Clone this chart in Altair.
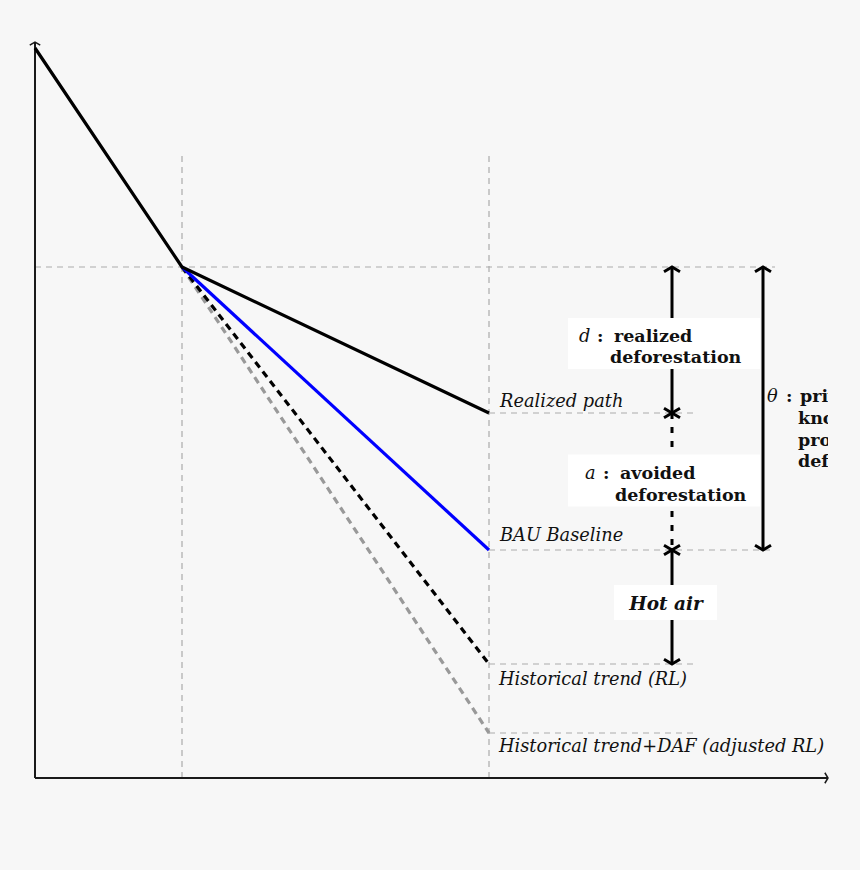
import altair as alt
import pandas as pd

# Time positions: start of the historical period, reference date, end of the crediting period
T_START, T_REF, T_END = 0.0, 14.7, 45.4
# Forest-loss level at the start and at the reference date
LEVEL_START = 73.0
LEVEL_REF = 51.1

# Paths after the reference date and their level at the end of the period
scenarios = ["Realized path", "BAU Baseline", "Historical trend (RL)",
             "Historical trend+DAF (adjusted RL)"]
end_levels = [36.5, 22.8, 11.4, 4.5]

# Extent of the drawn axes and guide lines
X_AXIS_END, Y_AXIS_END = 79.3, 73.6
GUIDE_TOP = 62.3
ARROW_X, THETA_X = 63.7, 72.8
GUIDE_END, THETA_GUIDE_END = 66.0, 74.0

lvl = dict(zip(scenarios, end_levels))
X_SCALE = alt.Scale(domain=[-3.5, 79.3], nice=False, zero=False)
Y_SCALE = alt.Scale(domain=[-9.2, 77.8], nice=False, zero=False)
SERIF = "DejaVu Serif"
ITALIC_SIZE = 17.8
BOLD_SIZE = 17.5


def xq(field="x"):
    return alt.X(f"{field}:Q", scale=X_SCALE, axis=None)


def yq(field="y"):
    return alt.Y(f"{field}:Q", scale=Y_SCALE, axis=None)


def segments(rows, **mark):
    df = pd.DataFrame(rows, columns=["x", "y", "x2", "y2"])
    return alt.Chart(df).mark_rule(**mark).encode(
        x=xq(), y=yq(), x2="x2:Q", y2="y2:Q")


def path(xs, ys, **mark):
    df = pd.DataFrame({"x": xs, "y": ys, "o": range(len(xs))})
    return alt.Chart(df).mark_line(**mark).encode(x=xq(), y=yq(), order="o:Q")


CHEVRON = "M-1,0.6L0,0L1,0.6"


def heads(points, angle, size=256, width=3.0, color="#000"):
    df = pd.DataFrame(points, columns=["x", "y"])
    return alt.Chart(df).mark_point(
        shape=CHEVRON, filled=False, size=size, angle=angle,
        strokeWidth=width, color=color, opacity=1, strokeJoin="miter",
    ).encode(x=xq(), y=yq())


def note(text, x, y, dx=0, dy=0, align="left", style="normal", weight="normal",
         size=None, clip=False):
    if size is None:
        size = BOLD_SIZE if weight == "bold" else ITALIC_SIZE
    df = pd.DataFrame({"x": [x], "y": [y], "t": [text]})
    return alt.Chart(df).mark_text(
        align=align, baseline="middle", dx=dx, dy=dy, font=SERIF,
        fontSize=size, fontStyle=style, fontWeight=weight, color="#111",
        clip=clip,
    ).encode(x=xq(), y=yq(), text="t:N")


def box(x, y, x0, x1, y0, y1):
    df = pd.DataFrame({"x": [x], "y": [y]})
    return alt.Chart(df).mark_rect(
        color="white", xOffset=x0, x2Offset=x1, yOffset=y0, y2Offset=y1,
    ).encode(x=xq(), x2="x:Q", y=yq(), y2="y:Q")


GUIDE = dict(color="#ababab", strokeWidth=1.2, strokeDash=[6, 5])

guides = segments(
    [[T_REF, 0, T_REF, GUIDE_TOP],
     [T_END, 0, T_END, GUIDE_TOP],
     [0, LEVEL_REF, THETA_GUIDE_END, LEVEL_REF],
     [T_END, lvl["Realized path"], GUIDE_END, lvl["Realized path"]],
     [T_END, lvl["BAU Baseline"], THETA_GUIDE_END, lvl["BAU Baseline"]],
     [T_END, lvl["Historical trend (RL)"], GUIDE_END, lvl["Historical trend (RL)"]],
     [T_END, lvl["Historical trend+DAF (adjusted RL)"], GUIDE_END,
      lvl["Historical trend+DAF (adjusted RL)"]]],
    **GUIDE)

axes = segments([[0, 0, X_AXIS_END, 0], [0, 0, 0, Y_AXIS_END]],
                color="#1a1a1a", strokeWidth=2)
axis_heads = (heads([[0, Y_AXIS_END]], 0, size=110, width=1.5, color="#1a1a1a")
              + heads([[X_AXIS_END, 0]], 90, size=110, width=1.5, color="#1a1a1a"))

LINE = dict(strokeWidth=3.2, strokeCap="butt", strokeJoin="round")
lines = (
    path([T_REF, T_END], [LEVEL_REF, lvl["Historical trend+DAF (adjusted RL)"]],
         color="#999999", strokeDash=[7, 5], **LINE)
    + path([T_REF, T_END], [LEVEL_REF, lvl["Historical trend (RL)"]],
           color="#000000", strokeDash=[7, 5], **LINE)
    + path([T_REF, T_END], [LEVEL_REF, lvl["BAU Baseline"]], color="#0000ff", **LINE)
    + path([T_START, T_REF, T_END], [LEVEL_START, LEVEL_REF, lvl["Realized path"]],
           color="#000000", **LINE)
)

ARROW = dict(color="#000", strokeWidth=3, strokeCap="butt")
d_top, d_bot = LEVEL_REF, lvl["Realized path"]
a_bot = lvl["BAU Baseline"]
h_bot = lvl["Historical trend (RL)"]

arrows = (
    segments([[ARROW_X, d_top, ARROW_X, d_bot]], **ARROW)
    + segments([[ARROW_X, d_bot, ARROW_X, a_bot]], strokeDash=[6, 8], **ARROW)
    + segments([[ARROW_X, a_bot, ARROW_X, h_bot]], **ARROW)
    + segments([[THETA_X, d_top, THETA_X, a_bot]], **ARROW)
    + heads([[ARROW_X, d_top], [ARROW_X, d_bot], [ARROW_X, a_bot],
             [THETA_X, d_top]], 0)
    + heads([[ARROW_X, d_bot], [ARROW_X, a_bot], [ARROW_X, h_bot],
             [THETA_X, a_bot]], 180)
)

d_mid = (d_top + d_bot) / 2
a_mid = (d_bot + a_bot) / 2
h_mid = (a_bot + h_bot) / 2
t_mid = (d_top + a_bot) / 2

boxes = (box(ARROW_X, d_mid, -104, 88, -22, 29)
         + box(ARROW_X, a_mid, -104, 88, -27, 25)
         + box(ARROW_X, h_mid, -58, 45, -22, 13))

texts = (
    note("Realized path", T_END, d_bot, dx=11, dy=-11, style="italic")
    + note("BAU Baseline", T_END, a_bot, dx=11, dy=-14, style="italic")
    + note("Historical trend (RL)", T_END, h_bot, dx=10, dy=16, style="italic")
    + note("Historical trend+DAF (adjusted RL)", T_END,
           lvl["Historical trend+DAF (adjusted RL)"], dx=10, dy=14, style="italic")
    # d : realized deforestation
    + note("d", ARROW_X, d_mid, dx=-93, dy=-3, style="italic")
    + note(":", ARROW_X, d_mid, dx=-75, dy=-3, weight="bold")
    + note("realized", ARROW_X, d_mid, dx=-58, dy=-3, weight="bold")
    + note("deforestation", ARROW_X, d_mid, dx=-62, dy=18, weight="bold")
    # a : avoided deforestation
    + note("a", ARROW_X, a_mid, dx=-87, dy=-8, style="italic")
    + note(":", ARROW_X, a_mid, dx=-69, dy=-8, weight="bold")
    + note("avoided", ARROW_X, a_mid, dx=-52, dy=-8, weight="bold")
    + note("deforestation", ARROW_X, a_mid, dx=-57, dy=14, weight="bold")
    # hot air
    + note("Hot air", ARROW_X, h_mid, dx=-6, dy=-3, align="center",
           style="italic", weight="bold", size=18.5)
    # theta : private knowledge of projected deforestation
    + note("θ", THETA_X, t_mid, dx=4, dy=-12, style="italic", clip=True)
    + note(":", THETA_X, t_mid, dx=23, dy=-12, weight="bold", clip=True)
    + note("private", THETA_X, t_mid, dx=37, dy=-12, weight="bold", clip=True)
    + note("knowledge of", THETA_X, t_mid, dx=35, dy=10, weight="bold", clip=True)
    + note("projected", THETA_X, t_mid, dx=35, dy=32, weight="bold", clip=True)
    + note("deforestation", THETA_X, t_mid, dx=35, dy=53, weight="bold", clip=True)
)

chart = alt.layer(
    guides, axes, axis_heads, lines, arrows, boxes, texts
).properties(
    width=828, height=870,
    autosize=alt.AutoSizeParams(type="none"),
    padding={"left": 0, "top": 0, "right": 32, "bottom": 0},
    background="#f7f7f7",
).configure_view(stroke=None)

chart.save("out.html", embed_options={"renderer": "svg", "actions": False})
